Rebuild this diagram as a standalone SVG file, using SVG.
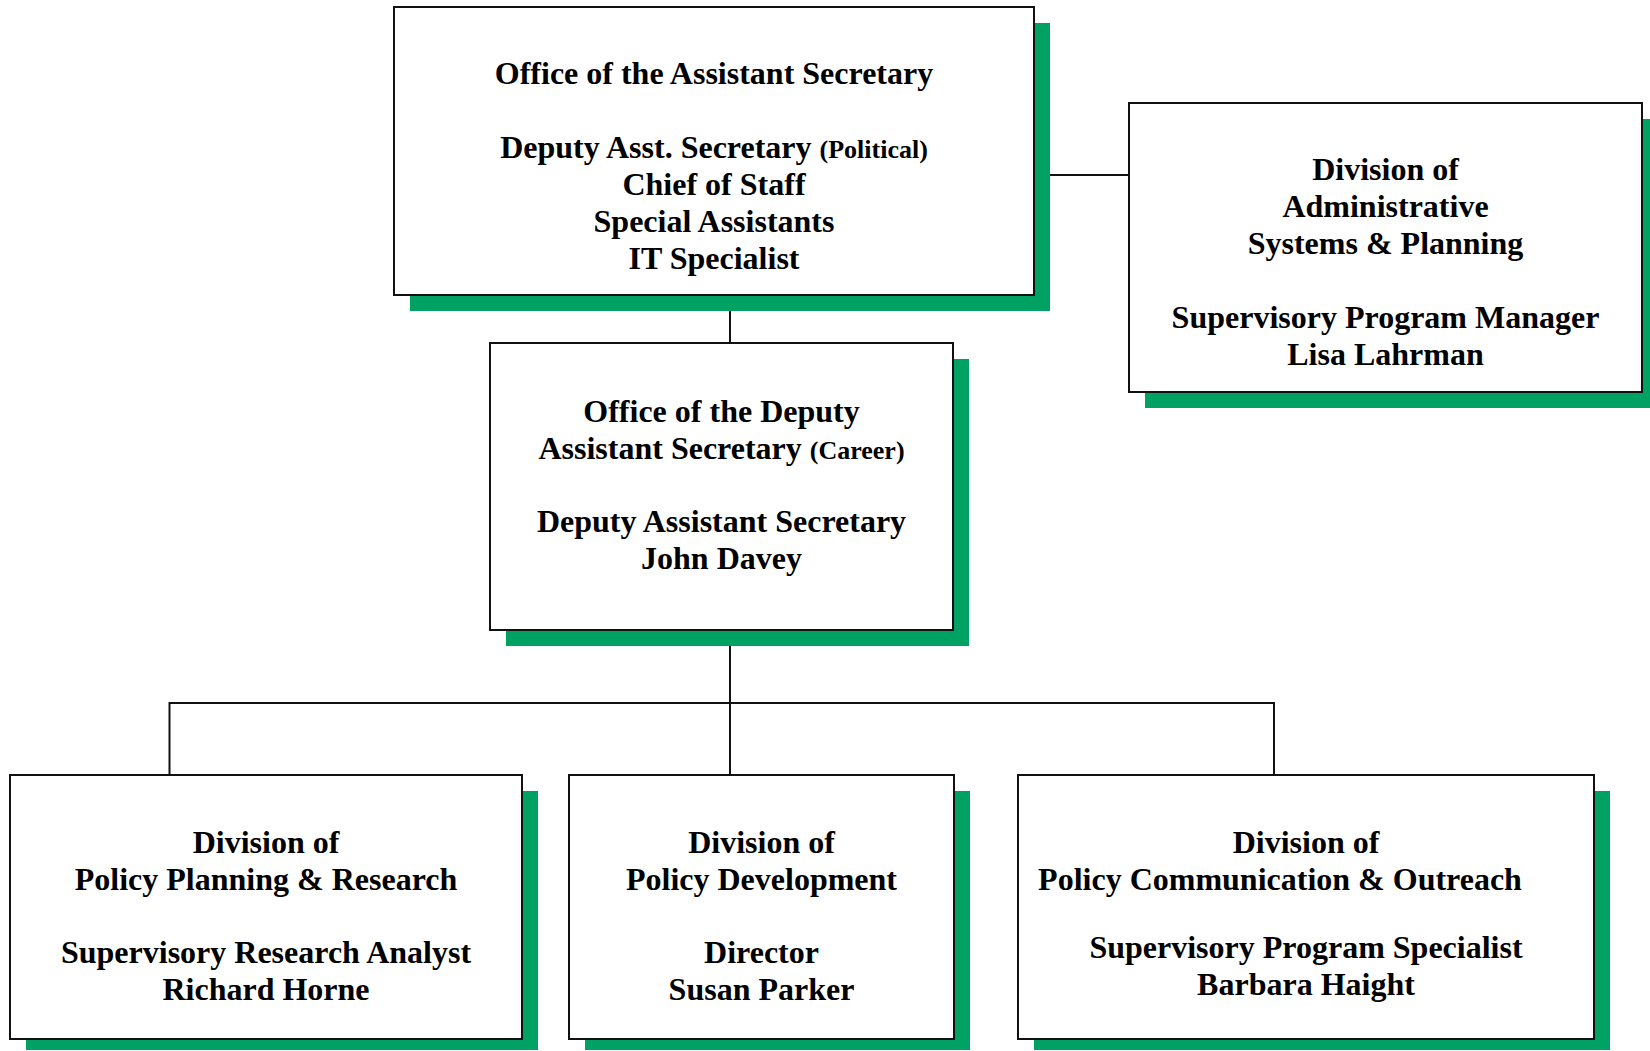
<svg xmlns="http://www.w3.org/2000/svg" width="1650" height="1051" viewBox="0 0 1650 1051">
<style>
.sh{fill:#00A263;}
.bx{fill:#fff;stroke:#111;stroke-width:2;}
.ln{stroke:#111;stroke-width:2;fill:none;}
text{font-family:"Liberation Serif","Times New Roman",serif;font-weight:bold;font-size:32px;fill:#000;text-anchor:middle;}
.sm{font-size:26px;}
</style>
<rect width="1650" height="1051" fill="#fff"/>
<g id="connectors">
<line class="ln" x1="1034" y1="175" x2="1129" y2="175"/>
<line class="ln" x1="730" y1="295" x2="730" y2="343"/>
<line class="ln" x1="730" y1="630" x2="730" y2="775"/>
<polyline class="ln" points="169.5,775 169.5,703 1274,703 1274,775"/>
</g>
<g id="asst-secretary">
<rect class="sh" x="410" y="23" width="640" height="288"/>
<rect class="bx" x="394" y="7" width="640" height="288"/>
<text x="714" y="84">Office of the Assistant Secretary</text>
<text x="714" y="158">Deputy Asst. Secretary <tspan class="sm">(Political)</tspan></text>
<text x="714" y="195">Chief of Staff</text>
<text x="714" y="232">Special Assistants</text>
<text x="714" y="269">IT Specialist</text>
</g>
<g id="admin-systems">
<rect class="sh" x="1145" y="119" width="513" height="289"/>
<rect class="bx" x="1129" y="103" width="513" height="289"/>
<text x="1385.5" y="180">Division of</text>
<text x="1385.5" y="217">Administrative</text>
<text x="1385.5" y="254">Systems &amp; Planning</text>
<text x="1385.5" y="328">Supervisory Program Manager</text>
<text x="1385.5" y="365">Lisa Lahrman</text>
</g>
<g id="deputy-asst-secretary">
<rect class="sh" x="506" y="359" width="463" height="287"/>
<rect class="bx" x="490" y="343" width="463" height="287"/>
<text x="721.5" y="422">Office of the Deputy</text>
<text x="721.5" y="459">Assistant Secretary <tspan class="sm">(Career)</tspan></text>
<text x="721.5" y="532">Deputy Assistant Secretary</text>
<text x="721.5" y="569">John Davey</text>
</g>
<g id="policy-planning">
<rect class="sh" x="26" y="791" width="512" height="259"/>
<rect class="bx" x="10" y="775" width="512" height="264"/>
<text x="266" y="853">Division of</text>
<text x="266" y="890">Policy Planning &amp; Research</text>
<text x="266" y="963">Supervisory Research Analyst</text>
<text x="266" y="1000">Richard Horne</text>
</g>
<g id="policy-development">
<rect class="sh" x="585" y="791" width="385" height="259"/>
<rect class="bx" x="569" y="775" width="385" height="264"/>
<text x="761.5" y="853">Division of</text>
<text x="761.5" y="890">Policy Development</text>
<text x="761.5" y="963">Director</text>
<text x="761.5" y="1000">Susan Parker</text>
</g>
<g id="policy-communication">
<rect class="sh" x="1034" y="791" width="576" height="259"/>
<rect class="bx" x="1018" y="775" width="576" height="264"/>
<text x="1306" y="853">Division of</text>
<text x="1280" y="890">Policy Communication &amp; Outreach</text>
<text x="1306" y="958">Supervisory Program Specialist</text>
<text x="1306" y="995">Barbara Haight</text>
</g>
</svg>
